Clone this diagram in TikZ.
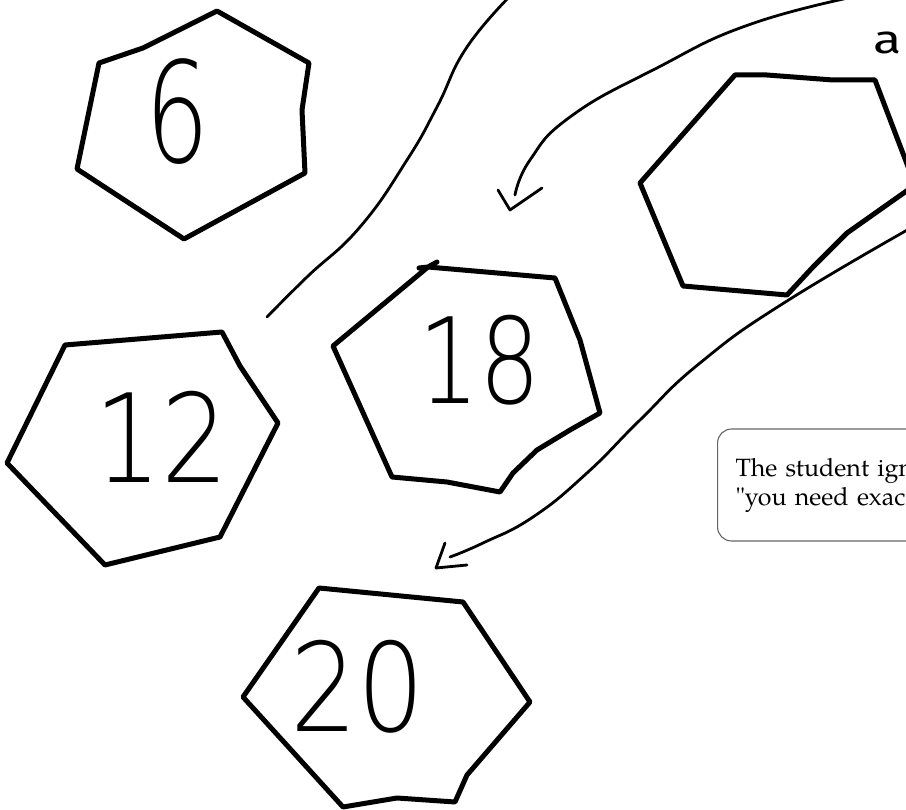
\documentclass[tikz,border=0pt]{standalone}
\usepackage{fontspec}
\newfontfamily\boxfont{texgyrepagella-regular.otf}
\IfFontExistsTF{DejaVuSans-ExtraLight.ttf}
  {\newfontfamily\hand{DejaVuSans-ExtraLight.ttf}}
  {\IfFontExistsTF{DejaVu Sans ExtraLight}
    {\newfontfamily\hand{DejaVu Sans ExtraLight}}
    {\newfontfamily\hand{Latin Modern Sans}}}
\newfontfamily\handreg{Fira Sans}
\begin{document}
\begin{tikzpicture}[x=1pt,y=-1pt,
  hexa/.style={line width=5pt, line join=round, line cap=round},
  curve/.style={line width=2.8pt, line cap=round, line join=round},
  digits/.style={inner sep=0pt},
  note/.style={draw=black!60, line width=1.1pt, rounded corners=14pt,
    minimum height=112pt, minimum width=260pt, text width=224pt,
    inner xsep=18pt, align=left, anchor=west,
    font=\boxfont\fontsize{25}{29}\selectfont}]
\useasboundingbox (0,0) rectangle (906,810);
\clip (0,0) rectangle (906,810);

% hexagon 6
\draw[hexa] (217,11) -- (309,63) -- (302,110) -- (305,173) -- (184,239)
  -- (77,169) -- (99,63) -- (143,48) -- cycle;
\node[digits, font=\hand\fontsize{140}{140}\selectfont, xscale=0.72] (n6) at (178,112) {6};

% hexagon 12
\draw[hexa] (65,345) -- (222,332) -- (240,366) -- (278,423) -- (220,537)
  -- (105,565) -- (7,463) -- cycle;
\node[digits, font=\hand\fontsize{123}{123}\selectfont, xscale=0.86] (n12) at (162,437) {12};

% hexagon 18
\draw[hexa] (437,262) -- (428,267) -- (333,346) -- (392,477) -- (447,482)
  -- (500,492) -- (513,473) -- (537,450) -- (570,430) -- (600,413)
  -- (580,340) -- (555,278) -- (428,267) -- (419,268);
\node[digits, font=\hand\fontsize{119}{119}\selectfont, xscale=0.81] (n18) at (480,360) {18};

% hexagon 20
\draw[hexa] (319,588) -- (463,602) -- (530,702) -- (467,775) -- (455,802)
  -- (397,798) -- (343,807) -- (243,697) -- cycle;
\node[digits, font=\hand\fontsize{123}{123}\selectfont, xscale=0.86] (n20) at (358,687) {20};

% hexagon top right (empty)
\draw[hexa] (735,75) -- (767,75) -- (833,80) -- (875,80) -- (915,185)
  -- (847,233) -- (813,267) -- (787,295) -- (683,286) -- (640,183) -- cycle;

% handwritten letter
\node[inner sep=0pt, anchor=base west, font=\handreg\fontsize{40}{40}\selectfont, xscale=1.3] (la) at (873,54) {a};

% long S curve
\coordinate (s0) at (514,-8);
\coordinate (s1) at (267,317);
\draw[curve] plot[smooth, tension=0.8] coordinates
  {(s0) (467,47) (437,107) (407,160) (360,227) (307,277) (s1)};

% arrow towards 18
\coordinate (a0) at (892,-11);
\coordinate (a1) at (515,195);
\coordinate (t1) at (510,210);
\draw[curve] plot[smooth, tension=0.8] coordinates
  {(a0) (757,22) (653,70) (570,117) (530,160) (a1)};
\draw[curve] (498,190) -- (t1) -- (542,188);

% arrow towards 20
\coordinate (b0) at (932,216);
\coordinate (b1) at (450,557);
\coordinate (t2) at (436,568);
\draw[curve] plot[smooth, tension=0.8] coordinates
  {(b0) (787,301) (700,363) (640,420) (587,473) (533,517) (483,543) (b1)};
\draw[curve] (445,543) -- (t2) -- (467,565);

% note box
\node[note] (box) at (717,485) {The student ign\\"you need exac};
\end{tikzpicture}
\end{document}
